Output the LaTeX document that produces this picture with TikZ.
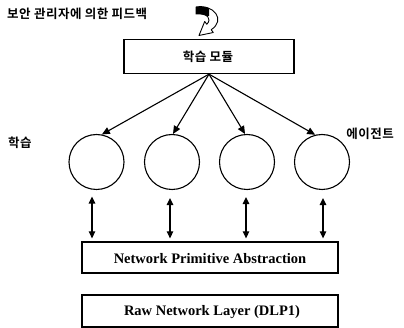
\documentclass[tikz,border=0pt]{standalone}
\usepackage{fontspec}
\setmainfont{Liberation Serif}
\newfontfamily\kr[BoldFont={Noto Sans CJK KR Bold},LetterSpace=4]{Noto Sans CJK KR}
\usetikzlibrary{arrows.meta,calc}

\begin{document}
\begin{tikzpicture}[x=1pt,y=-1pt,
  box/.style={draw,line width=1.3pt,inner sep=0pt,minimum height=#1},
  agent/.style={draw,circle,line width=1.1pt,minimum size=55pt,inner sep=0pt},
  fan/.style={line width=1.1pt,-{Triangle[length=8pt,width=7pt]}},
  dbl/.style={line width=1.3pt,{Triangle[length=7pt,width=6.5pt]}-{Triangle[length=7pt,width=6.5pt]}},
  krlabel/.style={font=\kr\bfseries\fontsize{12.5}{14}\selectfont,inner sep=0pt},
  enlabel/.style={font=\bfseries\fontsize{14.5}{16}\selectfont,inner sep=0pt}]
\useasboundingbox (0,0) rectangle (404,328);

% feedback caption and hook arrow
\node[krlabel,anchor=west] (fb) at (7,14) {보안 관리자에 의한 피드백};
\path[draw,line width=0.9pt,fill=white,line join=round]
  (196,7) .. controls (214,4) and (226,20) .. (211.2,29.7)
  -- (213.3,32.5) -- (199,35.5) -- (204.7,21.5) -- (206.8,24.3)
  .. controls (212,19) and (208,13) .. (196,14) -- cycle;
\begin{scope}
  \clip (190,0) rectangle (209,16);
  \fill (196,7) .. controls (214,4) and (226,20) .. (211.2,29.7)
  -- (206.8,24.3) .. controls (212,19) and (208,13) .. (196,14) -- cycle;
\end{scope}

% learning module
\node[box=34pt,minimum width=170pt] (lm) at (209,56.5) {};
\node[krlabel] (lmt) at (208,57) {학습 모듈};

% agents
\node[agent] (c1) at (96.5,162) {};
\node[agent] (c2) at (172,162) {};
\node[agent] (c3) at (247,162) {};
\node[agent] (c4) at (322,162) {};
\node[krlabel] (la) at (20,143) {학습};
\node[krlabel] (lb) at (370,134) {에이전트};

\draw[fan] (lm.south) -- (c1.79);
\draw[fan] (lm.south) -- (c2.88);
\draw[fan] (lm.south) -- (c3.94);
\draw[fan] (lm.south) -- (c4.104);

% layers
\node[box=31pt,minimum width=256pt] (npa) at (210,257.5) {};
\node[enlabel] (npat) at (210,259) {Network Primitive Abstraction};
\node[box=32pt,minimum width=256pt] (raw) at (210,311) {};
\node[enlabel] (rawt) at (212,312.5) {Raw Network Layer (DLP1)};

\draw[dbl] ([xshift=-4.5pt,yshift=-6.5pt]c1.south) -- ([xshift=-4.5pt,yshift=3pt]c1.south |- npa.north);
\draw[dbl] ([xshift=-2pt,yshift=-8pt]c2.south) -- ([xshift=-2pt,yshift=3pt]c2.south |- npa.north);
\draw[dbl] ([xshift=-1pt,yshift=-7pt]c3.south) -- ([xshift=-1pt,yshift=3pt]c3.south |- npa.north);
\draw[dbl] ([xshift=1pt,yshift=-8pt]c4.south) -- ([xshift=1pt,yshift=3pt]c4.south |- npa.north);
\end{tikzpicture}
\end{document}
